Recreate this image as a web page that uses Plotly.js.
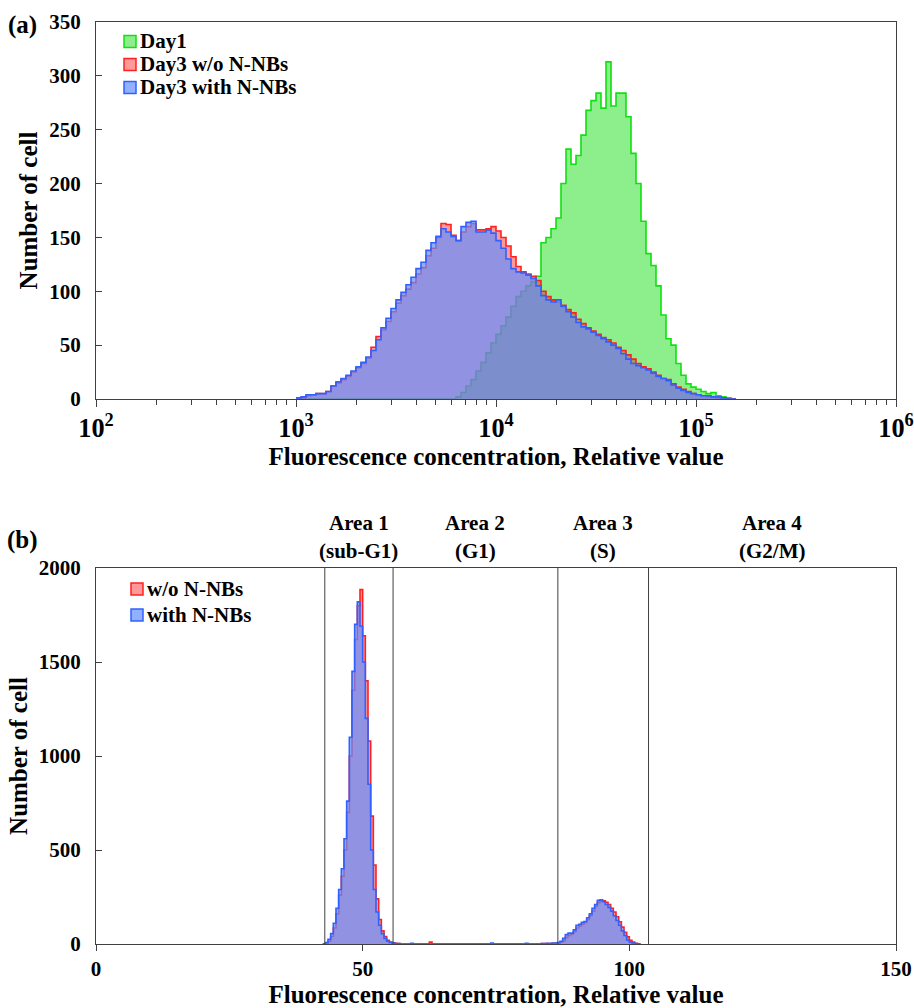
<!DOCTYPE html>
<html>
<head>
<meta charset="utf-8">
<script src="https://cdn.plot.ly/plotly-3.0.1.min.js"></script>
<style>html,body{margin:0;padding:0;background:#fff;}#chart{width:914px;height:1008px;}</style>
</head>
<body>
<div id="chart"></div>
<script>
// ---------- Panel (a): log-binned histograms (bin left edges as log10 exponents) ----------
const binExpA = [3.000,3.025,3.050,3.075,3.100,3.125,3.150,3.175,3.200,3.225,3.250,3.275,3.300,3.325,3.350,3.375,3.400,3.425,3.450,3.475,3.500,3.525,3.550,3.575,3.600,3.625,3.650,3.675,3.700,3.725,3.750,3.775,3.800,3.825,3.850,3.875,3.900,3.925,3.950,3.975,4.000,4.025,4.050,4.075,4.100,4.125,4.150,4.175,4.200,4.225,4.250,4.275,4.300,4.325,4.350,4.375,4.400,4.425,4.450,4.475,4.500,4.525,4.550,4.575,4.600,4.625,4.650,4.675,4.700,4.725,4.750,4.775,4.800,4.825,4.850,4.875,4.900,4.925,4.950,4.975,5.000,5.025,5.050,5.075,5.100,5.125,5.150,5.175,5.200];
const day1 = [0,0,0,0,0,0,0,0,0,0, 0,0,0,0,0,0,0,0,0,0, 0,0,0,0,0,0,0,0,0,0, 0,0,
  2,6,12,18,26,34,43,52,
  60,68,76,86,95,100,105,109,114,
  145,150,158,168,200,232,218,226,245,268,277,
  284,270,313,272,284,284,262,228,200,165,
  135,124,105,78,56,50,33,22,14,11,
  9,7,5,6,3,2,1,0,0];
const day3Without = [0,1,3,4,5,5,7,12,15,18,
  21,25,29,33,38,48,58,64,72,81,
  89,96,102,108,116,122,133,140,150,163,
  162,152,147,155,160,163,157,157,158,160,
  156,150,142,132,123,118,116,114,110,100,
  95,92,90,87,83,80,74,70,66,63,
  60,57,55,52,48,45,41,37,33,30,
  28,25,22,19,18,14,11,9,7,5,
  4,3,2,2,1,1,0,0,0];
const day3With = [1,2,4,4,5,5,7,12,16,19,
  22,26,30,34,39,45,55,66,75,84,
  92,99,106,113,121,127,138,145,151,158,
  155,151,147,160,164,165,155,155,157,154,
  147,140,130,121,118,117,115,112,105,96,
  92,90,92,86,81,76,71,67,65,62,
  59,56,53,50,47,42,37,33,31,29,
  27,24,21,19,17,13,10,8,6,5,
  4,3,3,2,2,1,0,0,0];
const legendA = ["Day1","Day3 w/o N-NBs","Day3 with N-NBs"];

// ---------- Panel (b): linear histograms (bin left edges) ----------
const binWithoutB = [42.5,43,43.5,44,44.5,45,45.5,46,46.5,47,47.5,48,48.5,49,49.5,50,50.5,51,51.5,52,52.5,53,53.5,54,54.5,55,55.5,56,56.5,57,
  62.5,63,
  83.5,84,84.5,85,85.5,86,86.5,87,87.5,88,88.5,89,89.5,90,90.5,91,91.5,92,92.5,93,93.5,94,94.5,95,95.5,96,96.5,97,97.5,98,98.5,99,99.5,100,100.5,101,101.5,102];
const cntWithoutB = [0,3,15,40,85,160,260,360,500,700,1000,1350,1620,1800,1885,1640,1400,1080,680,420,240,130,70,40,20,10,6,4,2,0,
  10,0,
  2,3,3,2,4,4,5,9,18,35,45,52,65,85,95,105,115,130,150,175,200,220,228,230,222,210,190,170,145,118,90,62,38,20,10,4,1,0];
const binWithB = [42.5,43,43.5,44,44.5,45,45.5,46,46.5,47,47.5,48,48.5,49,49.5,50,50.5,51,51.5,52,52.5,53,53.5,54,54.5,55,55.5,56,56.5,57,
  59,59.5,74,74.5,80.5,81,
  83.5,84,84.5,85,85.5,86,86.5,87,87.5,88,88.5,89,89.5,90,90.5,91,91.5,92,92.5,93,93.5,94,94.5,95,95.5,96,96.5,97,97.5,98,98.5,99,99.5,100,100.5,101,101.5];
const cntWithB = [0,8,25,55,110,190,290,400,560,760,1100,1450,1700,1820,1690,1500,1200,850,500,290,170,100,55,30,15,8,5,3,2,0,
  4,0,5,0,4,0,
  3,3,4,3,5,5,8,15,30,50,58,58,75,100,105,115,120,140,160,190,210,232,235,225,210,195,175,150,125,100,70,45,22,10,5,2,0];
const legendB = ["w/o N-NBs","with N-NBs"];
const areaBounds = [42.9, 55.7, 86.6, 103.6];
const areaNames = ["Area 1","Area 2","Area 3","Area 4"];
const areaPhases = ["(sub-G1)","(G1)","(S)","(G2/M)"];

// ---------- styles ----------
const FONT = "'Liberation Serif','Times New Roman',serif";
const GREEN = {line:'#10e010', fill:'rgba(0,220,0,0.45)'};
const RED = {line:'#ff2020', fill:'rgba(255,0,0,0.40)'};
const BLUE = {line:'#3060ff', fill:'rgba(98,142,255,0.70)'};

// page geometry helpers (pixel -> paper fraction)
const M = {l:96, r:18, t:22, b:64}, W = 914, H = 1008;
const PW = W - M.l - M.r, PH = H - M.t - M.b;
const px2x = p => (p - M.l) / PW;
const px2y = p => (H - M.b - p) / PH;

const pow10 = a => a.map(e => Math.pow(10, e));
function histTrace(x, y, c, xa, ya) {
  return {x: x, y: y, type:'scatter', mode:'lines', line:{shape:'hv', color:c.line, width:1.6},
    fill:'tozeroy', fillcolor:c.fill, xaxis:xa, yaxis:ya, showlegend:false, hoverinfo:'skip'};
}
const xA = pow10(binExpA);
const traces = [
  histTrace(xA, day1, GREEN, 'x', 'y'),
  histTrace(xA, day3Without, RED, 'x', 'y'),
  histTrace(xA, day3With, BLUE, 'x', 'y'),
  histTrace(binWithoutB, cntWithoutB, RED, 'x2', 'y2'),
  histTrace(binWithB, cntWithB, BLUE, 'x2', 'y2')
];

const tickFont = {family:FONT, size:21, color:'#000', weight:'bold'};
const titleFont = {family:FONT, size:25, color:'#000', weight:'bold'};
const legFont = {family:FONT, size:21, color:'#000', weight:'bold'};
const axisCommon = {showgrid:false, zeroline:false, showline:true, linecolor:'#404040', linewidth:1, mirror:true,
  tickfont:tickFont, tickcolor:'#404040'};

const shapes = areaBounds.map(b => ({type:'line', xref:'x2', yref:'y2 domain', x0:b, x1:b, y0:0, y1:1,
  line:{color:'#404040', width:1}}));
const annotations = [
  {text:'(a)', xref:'paper', yref:'paper', x:px2x(22), y:px2y(25), showarrow:false, font:titleFont, xanchor:'center', yanchor:'middle'},
  {text:'(b)', xref:'paper', yref:'paper', x:px2x(22), y:px2y(540), showarrow:false, font:titleFont, xanchor:'center', yanchor:'middle'}
];
const rightEdge = [areaBounds[1], areaBounds[2], areaBounds[3], 150];
areaNames.forEach((n, i) => {
  const cx = (areaBounds[i] + rightEdge[i]) / 2;
  annotations.push({text:n, xref:'x2', yref:'paper', x:cx, y:px2y(523), showarrow:false, font:tickFont, xanchor:'center', yanchor:'middle'});
  annotations.push({text:areaPhases[i], xref:'x2', yref:'paper', x:cx, y:px2y(551), showarrow:false, font:tickFont, xanchor:'center', yanchor:'middle'});
});

// manual legends (square swatch + text)
function addLegend(names, colors, sqLeft, textLeft, rowsY) {
  names.forEach((n, i) => {
    const cy = rowsY[i];
    shapes.push({type:'rect', xref:'paper', yref:'paper', x0:px2x(sqLeft), x1:px2x(sqLeft + 12),
      y0:px2y(cy + 6), y1:px2y(cy - 6), fillcolor:colors[i].fill, line:{color:colors[i].line, width:1.5}});
    annotations.push({text:n, xref:'paper', yref:'paper', x:px2x(textLeft), y:px2y(cy), showarrow:false,
      font:legFont, xanchor:'left', yanchor:'middle'});
  });
}
addLegend(legendA, [GREEN, RED, BLUE], 124, 138, [41.5, 64.5, 87.5]);
addLegend(legendB, [RED, BLUE], 131, 145, [589, 615]);

const layout = {
  width:W, height:H,
  margin:M,
  paper_bgcolor:'#fff', plot_bgcolor:'#fff',
  font:{family:FONT, color:'#000'},
  showlegend:false,
  xaxis: Object.assign({}, axisCommon, {type:'log', range:[2,6], dtick:1, exponentformat:'power',
    domain:[0,1], anchor:'y', ticks:'outside', ticklen:7, ticklabeloverflow:'allow',
    minor:{ticks:'outside', ticklen:5, dtick:'D1', showgrid:false, tickcolor:'#404040'},
    title:{text:'Fluorescence concentration, Relative value', font:titleFont, standoff:1}}),
  yaxis: Object.assign({}, axisCommon, {range:[0,350], dtick:50, domain:[px2y(399),1], anchor:'x',
    ticks:'inside', ticklen:6, ticklabelstandoff:10,
    title:{text:'Number of cell', font:titleFont, standoff:4}}),
  xaxis2: Object.assign({}, axisCommon, {range:[0,150], dtick:50, domain:[0,1], anchor:'y2',
    ticks:'outside', ticklen:6, ticklabeloverflow:'allow',
    title:{text:'Fluorescence concentration, Relative value', font:titleFont, standoff:8}}),
  yaxis2: Object.assign({}, axisCommon, {range:[0,2000], dtick:500, domain:[0,px2y(568)], anchor:'x2',
    ticks:'inside', ticklen:6, ticklabelstandoff:10,
    title:{text:'Number of cell', font:titleFont, standoff:4}}),
  shapes:shapes,
  annotations:annotations
};
Plotly.newPlot('chart', traces, layout, {displayModeBar:false, staticPlot:true});
</script>
</body>
</html>
